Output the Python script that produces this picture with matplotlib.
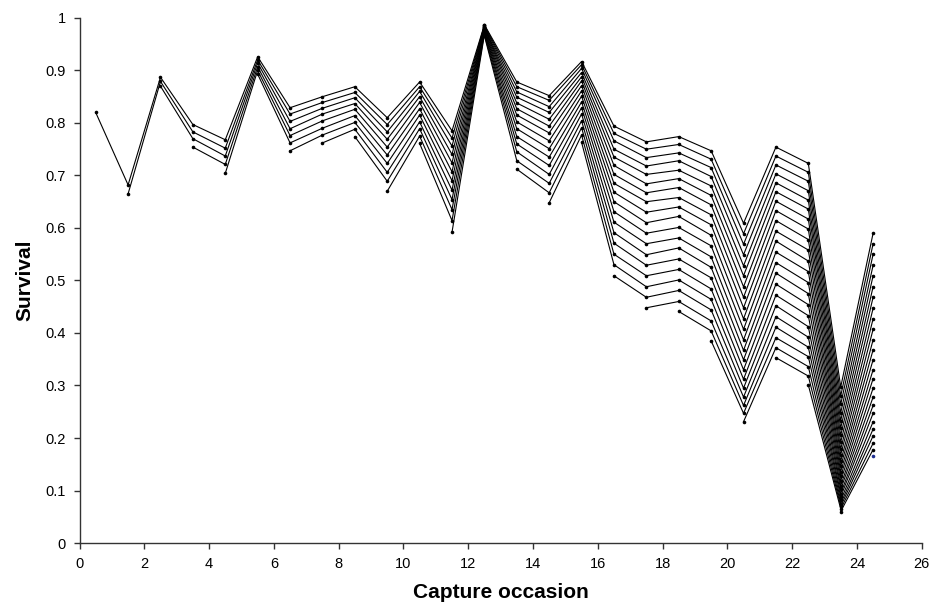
import matplotlib
matplotlib.use("Agg")
import matplotlib.pyplot as plt

# capture occasions (x positions of the point columns)
occasions = [0.5, 1.5, 2.5, 3.5, 4.5, 5.5, 6.5, 7.5, 8.5, 9.5, 10.5, 11.5, 12.5,
             13.5, 14.5, 15.5, 16.5, 17.5, 18.5, 19.5, 20.5, 21.5, 22.5, 23.5, 24.5]

# survival per occasion, one value per release cohort (oldest cohort first)
occ_01 = [0.820]
occ_02 = [0.682, 0.665]
occ_03 = [0.887, 0.879, 0.870]
occ_04 = [0.797, 0.783, 0.770, 0.754]
occ_05 = [0.768, 0.752, 0.737, 0.721, 0.704]
occ_06 = [0.926, 0.920, 0.914, 0.907, 0.900, 0.893]
occ_07 = [0.829, 0.817, 0.803, 0.789, 0.776, 0.762, 0.747]
occ_08 = [0.850, 0.839, 0.828, 0.817, 0.804, 0.790, 0.777, 0.762]
occ_09 = [0.869, 0.858, 0.848, 0.837, 0.826, 0.814, 0.801, 0.788, 0.774]
occ_10 = [0.810, 0.797, 0.783, 0.769, 0.754, 0.739, 0.723, 0.706, 0.689, 0.670]
occ_11 = [0.878, 0.869, 0.860, 0.850, 0.839, 0.827, 0.815, 0.802, 0.789, 0.775, 0.761]
occ_12 = [0.785, 0.771, 0.756, 0.740, 0.724, 0.707, 0.690, 0.672, 0.654, 0.635, 0.614, 0.592]
occ_13 = [0.987, 0.986, 0.985, 0.983, 0.982, 0.981, 0.979, 0.977, 0.975, 0.973, 0.971,
          0.968, 0.966]
occ_14 = [0.878, 0.869, 0.859, 0.849, 0.838, 0.827, 0.815, 0.802, 0.789, 0.774, 0.760,
          0.745, 0.728, 0.712]
occ_15 = [0.852, 0.843, 0.831, 0.820, 0.807, 0.794, 0.781, 0.766, 0.751, 0.735, 0.719,
          0.702, 0.685, 0.667, 0.648]
occ_16 = [0.917, 0.911, 0.904, 0.896, 0.888, 0.880, 0.871, 0.861, 0.851, 0.840, 0.829,
          0.817, 0.804, 0.791, 0.777, 0.763]
occ_17 = [0.794, 0.780, 0.766, 0.750, 0.735, 0.719, 0.702, 0.685, 0.668, 0.650, 0.631,
          0.611, 0.591, 0.571, 0.550, 0.530, 0.509]
occ_18 = [0.764, 0.750, 0.734, 0.718, 0.702, 0.684, 0.667, 0.650, 0.630, 0.610, 0.590,
          0.570, 0.549, 0.529, 0.509, 0.488, 0.468, 0.448]
occ_19 = [0.774, 0.759, 0.743, 0.728, 0.710, 0.694, 0.677, 0.658, 0.640, 0.622, 0.601,
          0.581, 0.562, 0.541, 0.521, 0.501, 0.481, 0.460, 0.441]
occ_20 = [0.747, 0.731, 0.715, 0.698, 0.680, 0.662, 0.644, 0.625, 0.606, 0.586, 0.566,
          0.545, 0.525, 0.505, 0.484, 0.464, 0.444, 0.423, 0.404, 0.385]
occ_21 = [0.609, 0.589, 0.569, 0.549, 0.528, 0.509, 0.488, 0.468, 0.448, 0.427, 0.407,
          0.387, 0.367, 0.349, 0.330, 0.312, 0.295, 0.278, 0.262, 0.247, 0.231]
occ_22 = [0.754, 0.737, 0.720, 0.703, 0.686, 0.669, 0.651, 0.633, 0.614, 0.594, 0.575,
          0.554, 0.534, 0.514, 0.493, 0.472, 0.452, 0.431, 0.411, 0.391, 0.372, 0.353]
occ_23 = [0.723, 0.706, 0.689, 0.671, 0.653, 0.636, 0.617, 0.598, 0.578, 0.558, 0.537,
          0.517, 0.496, 0.475, 0.454, 0.433, 0.412, 0.392, 0.373, 0.355, 0.336, 0.318, 0.301]
occ_24 = [0.297, 0.280, 0.264, 0.248, 0.233, 0.219, 0.205, 0.192, 0.179, 0.168, 0.156,
          0.146, 0.136, 0.127, 0.118, 0.109, 0.102, 0.094, 0.088, 0.081, 0.075, 0.070,
          0.065, 0.060]
occ_25 = [0.590, 0.570, 0.550, 0.529, 0.509, 0.488, 0.468, 0.447, 0.427, 0.407, 0.387,
          0.368, 0.349, 0.330, 0.313, 0.295, 0.278, 0.262, 0.247, 0.231, 0.217, 0.204,
          0.190, 0.178, 0.166]

columns = [occ_01, occ_02, occ_03, occ_04, occ_05, occ_06, occ_07, occ_08, occ_09,
           occ_10, occ_11, occ_12, occ_13, occ_14, occ_15, occ_16, occ_17, occ_18,
           occ_19, occ_20, occ_21, occ_22, occ_23, occ_24, occ_25]

plt.rcParams['font.family'] = ['Liberation Sans', 'DejaVu Sans']

fig = plt.figure(figsize=(9.31, 6.12), dpi=100)
ax = fig.add_axes([0.0854, 0.1127, 0.9046, 0.858])

# one line per release cohort, running from its release occasion to the end
n = len(occasions)
for c in range(n):
    xs = occasions[c:]
    ys = [columns[k][c] for k in range(c, n)]
    # last cohort is a lone point, drawn in navy like the reference
    mcol = "#1f2f8f" if c == n - 1 else "black"
    ax.plot(xs, ys, color="black", linewidth=0.8, marker="o", markersize=2.6,
            markerfacecolor=mcol, markeredgewidth=0)

ax.set_xlim(0, 26)
ax.set_ylim(0, 1)
ax.set_xticks(range(0, 27, 2))
ax.set_yticks([i / 10 for i in range(11)])
ax.set_yticklabels(["0", "0.1", "0.2", "0.3", "0.4", "0.5", "0.6", "0.7", "0.8", "0.9", "1"])

for side in ["top", "right"]:
    ax.spines[side].set_visible(False)
for side in ["left", "bottom"]:
    ax.spines[side].set_linewidth(1.0)
    ax.spines[side].set_color("#333333")

ax.tick_params(direction="out", length=4, width=1, labelsize=10.5, colors="#333333",
               labelcolor="black", pad=6)

ax.set_xlabel("Capture occasion", fontsize=15, fontweight="bold", labelpad=9)
ax.set_ylabel("Survival", fontsize=15, fontweight="bold", labelpad=8)

fig.savefig("out.png", dpi=100)
